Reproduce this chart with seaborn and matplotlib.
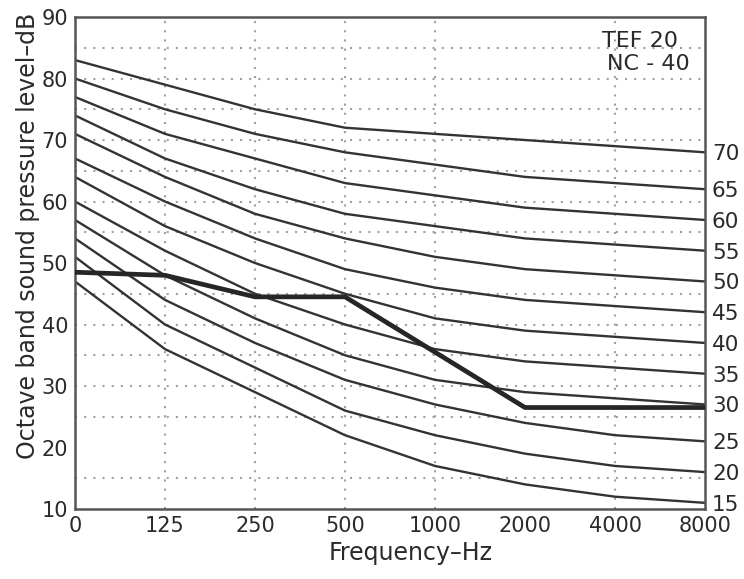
"""NC curves with a measured octave band spectrum."""

import pandas as pd
import matplotlib
matplotlib.use("Agg")
import matplotlib.pyplot as plt
import seaborn as sns

# octave band centre frequencies (tick labels)
freq_labels = ["0", "125", "250", "500", "1000", "2000", "4000", "8000"]

# NC ratings and their curves, one value per octave band
nc_ratings = [15, 20, 25, 30, 35, 40, 45, 50, 55, 60, 65, 70]
nc15 = [47, 36, 29, 22, 17, 14, 12, 11]
nc20 = [51, 40, 33, 26, 22, 19, 17, 16]
nc25 = [54, 44, 37, 31, 27, 24, 22, 21]
nc30 = [57, 48, 41, 35, 31, 29, 28, 27]
nc35 = [60, 52, 45, 40, 36, 34, 33, 32]
nc40 = [64, 56, 50, 45, 41, 39, 38, 37]
nc45 = [67, 60, 54, 49, 46, 44, 43, 42]
nc50 = [71, 64, 58, 54, 51, 49, 48, 47]
nc55 = [74, 67, 62, 58, 56, 54, 53, 52]
nc60 = [77, 71, 67, 63, 61, 59, 58, 57]
nc65 = [80, 75, 71, 68, 66, 64, 63, 62]
nc70 = [83, 79, 75, 72, 71, 70, 69, 68]

# measured spectrum (TEF 20)
measured = [48.5, 48, 44.5, 44.5, 35.5, 26.5, 26.5, 26.5]

# dotted grid positions
grid_levels = [15, 25, 30, 35, 40, 45, 55, 60, 65, 70, 75, 80, 85]
grid_freqs = ["125", "250", "500", "1000", "4000"]

curves = [nc15, nc20, nc25, nc30, nc35, nc40, nc45, nc50, nc55, nc60, nc65, nc70]
rows = []
for rating, levels in zip(nc_ratings, curves):
    for i, level in enumerate(levels):
        rows.append({"band": i, "level": level, "nc": rating})
nc_df = pd.DataFrame(rows)
meas_df = pd.DataFrame({"band": range(len(freq_labels)), "level": measured})

sns.set_style("white")
plt.rcParams["font.family"] = ["DejaVu Sans"]

fig = plt.figure(figsize=(7.44, 5.79), dpi=100)
ax = fig.add_axes([0.1008, 0.1209, 0.8468, 0.8497])

# dotted grid
grid_style = dict(color="#a0a0a0", linestyle=(0, (1, 3.4)), linewidth=1.5, zorder=1)
for lv in grid_levels:
    ax.axhline(lv, **grid_style)
for f in grid_freqs:
    ax.axvline(freq_labels.index(f), **grid_style)

sns.lineplot(data=nc_df, x="band", y="level", units="nc", estimator=None,
             color="#333333", linewidth=1.7, ax=ax, zorder=2)
sns.lineplot(data=meas_df, x="band", y="level", color="#262626",
             linewidth=3.4, ax=ax, zorder=3)

ax.set_xlim(0, len(freq_labels) - 1)
ax.set_ylim(10, 90)
ax.set_xticks(range(len(freq_labels)))
ax.set_xticklabels(freq_labels)
ax.set_yticks(range(10, 100, 10))
ax.tick_params(axis="both", labelsize=15, colors="#2a2a2a", length=0, pad=5)
ax.set_xlabel("Frequency\u2013Hz", fontsize=17, color="#2a2a2a")
ax.set_ylabel("Octave band sound pressure level\u2013dB", fontsize=17,
              color="#2a2a2a")
ax.xaxis.set_label_coords(0.532, -0.065)
ax.yaxis.set_label_coords(-0.056, 0.555)

for side in ["left", "right", "top", "bottom"]:
    ax.spines[side].set_visible(True)
    ax.spines[side].set_color("#555555")
    ax.spines[side].set_linewidth(1.8)

# NC rating labels at the right end of each curve
ax2 = ax.twinx()
ax2.set_ylim(ax.get_ylim())
ax2.set_yticks([c[-1] for c in curves])
ax2.set_yticklabels([str(r) for r in nc_ratings])
ax2.tick_params(axis="y", labelsize=15.5, colors="#2a2a2a", length=0, pad=5)
for side in ["left", "right", "top", "bottom"]:
    ax2.spines[side].set_visible(False)

ax.text(0.8365, 0.939, "TEF 20", transform=ax.transAxes,
        ha="left", va="baseline", fontsize=16, color="#2a2a2a")
ax.text(0.8444, 0.892, "NC - 40", transform=ax.transAxes,
        ha="left", va="baseline", fontsize=16, color="#2a2a2a")

fig.savefig("out.png", dpi=100)
